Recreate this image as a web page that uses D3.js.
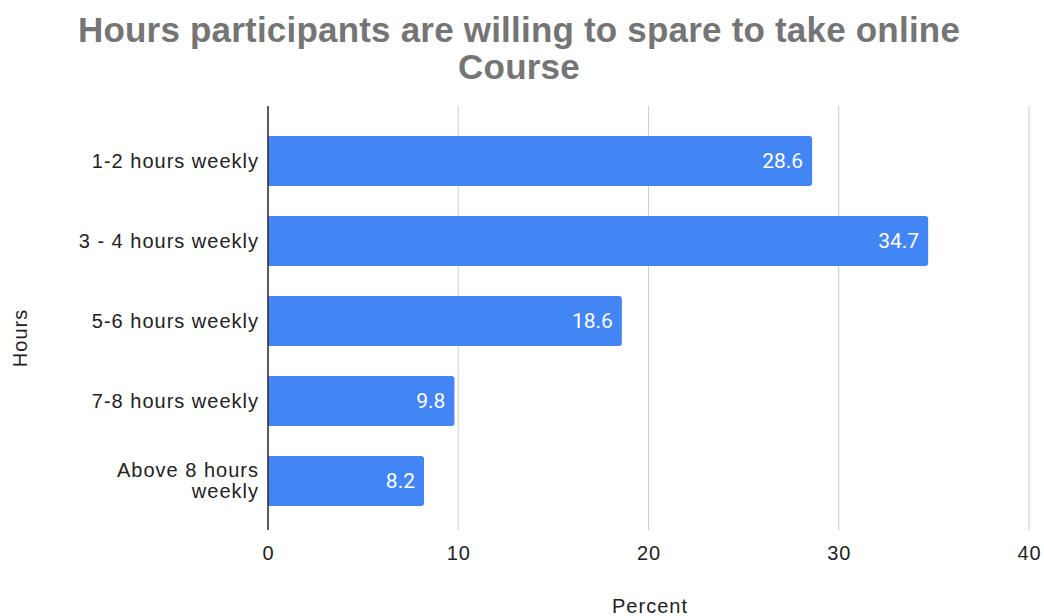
<!DOCTYPE html>
<html>
<head>
<meta charset="utf-8">
<script src="https://cdn.jsdelivr.net/npm/d3@7"></script>
<style>
  body { margin: 0; background: #fff; }
  text { font-family: "Liberation Sans", Arial, sans-serif; }
</style>
</head>
<body>
<div id="chart"></div>
<script>
// Data
let categories = ["1-2 hours weekly", "3 - 4 hours weekly", "5-6 hours weekly", "7-8 hours weekly", "Above 8 hours weekly"];
let percents = [28.6, 34.7, 18.6, 9.8, 8.2];
let xTicks = [0, 10, 20, 30, 40];

let svgWidth = 1044;
let svgHeight = 616;

let margin = { top: 106, right: 15, bottom: 86, left: 268 };

let svg = d3.select("#chart")
    .append("svg")
    .attr("width", svgWidth)
    .attr("height", svgHeight);

let chartGroup = svg.append("g")
    .attr("transform", `translate(${margin.left}, ${margin.top})`);

let xScale = d3.scaleLinear()
    .domain([0, 40])
    .range([0, 761]);

let yScale = d3.scaleBand()
    .domain(categories)
    .range([15, 415])
    .paddingInner(0.375)
    .paddingOuter(0.1875);

// gridlines
chartGroup.append("g")
    .selectAll("line")
    .data(xTicks.slice(1))
    .join("line")
    .attr("x1", d => xScale(d))
    .attr("x2", d => xScale(d))
    .attr("y1", 0)
    .attr("y2", 424)
    .attr("stroke", "#cccccc")
    .attr("stroke-width", 1);

// bars with rounded right end
let r = 3;
chartGroup.append("g")
    .selectAll("path")
    .data(percents)
    .join("path")
    .attr("fill", "#4285f4")
    .attr("d", (d, i) => {
        let y0 = yScale(categories[i]);
        let h = yScale.bandwidth();
        let x1 = xScale(d);
        return `M0,${y0}H${x1 - r}Q${x1},${y0} ${x1},${y0 + r}V${y0 + h - r}Q${x1},${y0 + h} ${x1 - r},${y0 + h}H0Z`;
    });

// value labels
chartGroup.append("g")
    .selectAll("text")
    .data(percents)
    .join("text")
    .attr("x", d => xScale(d) - 9)
    .attr("y", (d, i) => yScale(categories[i]) + yScale.bandwidth() / 2)
    .attr("dy", "0.35em")
    .attr("text-anchor", "end")
    .attr("fill", "#ffffff")
    .style("font-family", "Roboto, sans-serif")
    .style("font-size", "21px")
    .text(d => d);

// baseline axis
chartGroup.append("line")
    .attr("x1", 0).attr("x2", 0)
    .attr("y1", 0).attr("y2", 424)
    .attr("stroke", "#333333")
    .attr("stroke-width", 1.6);

// x tick labels
chartGroup.append("g")
    .selectAll("text")
    .data(xTicks)
    .join("text")
    .attr("x", d => xScale(d) + 0.5)
    .attr("y", 454)
    .attr("text-anchor", "middle")
    .attr("fill", "#222222")
    .style("font-size", "20px")
    .style("letter-spacing", "1px")
    .text(d => d);

// category labels (wrap the long one)
let catLabels = chartGroup.append("g")
    .selectAll("text")
    .data(categories)
    .join("text")
    .attr("text-anchor", "end")
    .attr("fill", "#222222")
    .style("font-size", "20px")
    .style("letter-spacing", "1px")
    .attr("y", d => yScale(d) + yScale.bandwidth() / 2);

catLabels.each(function(d) {
    let t = d3.select(this);
    let lines = d.length > 18 ? ["Above 8 hours", "weekly"] : [d];
    lines.forEach((ln, k) => {
        t.append("tspan")
            .attr("x", -9)
            .attr("dy", k === 0 ? (lines.length > 1 ? "-0.2em" : "0.35em") : "1.05em")
            .text(ln);
    });
});

// title
let title = svg.append("text")
    .attr("text-anchor", "middle")
    .attr("fill", "#757575")
    .style("font-size", "35px")
    .style("font-weight", "bold")
    .style("letter-spacing", "0.2px");
title.append("tspan").attr("x", 519).attr("y", 42).text("Hours participants are willing to spare to take online");
title.append("tspan").attr("x", 519).attr("y", 79).text("Course");

// axis titles
svg.append("text")
    .attr("x", 650)
    .attr("y", 613)
    .attr("text-anchor", "middle")
    .attr("fill", "#222222")
    .style("font-size", "20px")
    .style("letter-spacing", "1px")
    .text("Percent");

svg.append("text")
    .attr("transform", "translate(27, 338) rotate(-90)")
    .attr("text-anchor", "middle")
    .attr("fill", "#222222")
    .style("font-size", "20px")
    .style("letter-spacing", "1px")
    .text("Hours");
</script>
</body>
</html>
